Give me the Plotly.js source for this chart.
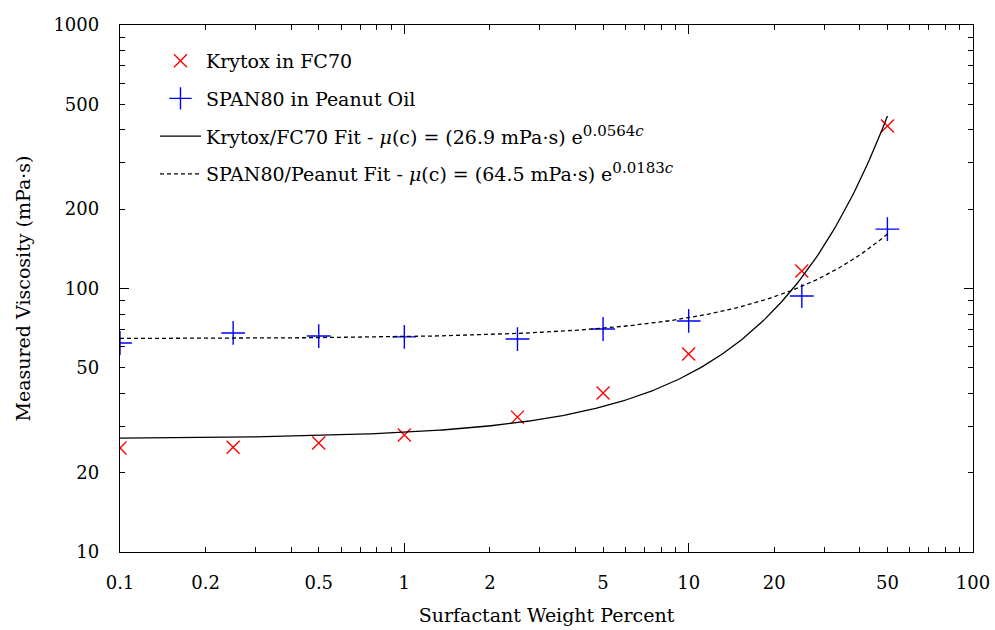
<!DOCTYPE html>
<html>
<head>
<meta charset="utf-8">
<script src="https://cdn.plot.ly/plotly-3.0.1.min.js"></script>
<style>
  html, body { margin: 0; padding: 0; background: #fff; }
  #chart { width: 995px; height: 630px; }
</style>
</head>
<body>
<div id="chart"></div>
<script>
// Surfactant concentration (weight percent)
const concentration = [0.1, 0.25, 0.5, 1, 2.5, 5, 10, 25, 50];

// Measured viscosity (mPa·s)
const krytoxViscosity = [24.8, 25.0, 25.9, 27.8, 32.5, 40.1, 56.4, 116.5, 414];
const span80Viscosity = [62.1, 67.8, 66.0, 65.5, 64.3, 70.2, 75.3, 93.6, 168];

// Exponential fits: mu(c) = mu0 * exp(k * c)
const krytoxMu0 = 26.9, krytoxK = 0.0564;
const span80Mu0 = 64.5, span80K = 0.0183;

// Labelled tick positions
const xLabelVals = [0.1, 0.2, 0.5, 1, 2, 5, 10, 20, 50, 100];
const yLabelVals = [10, 20, 50, 100, 200, 500, 1000];

// Evaluate a fit curve on a log-spaced grid of concentrations
function fitCurve(mu0, k, cMin, cMax, n) {
  const xs = [], ys = [];
  const l0 = Math.log10(cMin), l1 = Math.log10(cMax);
  for (let i = 0; i <= n; i++) {
    const c = Math.pow(10, l0 + (l1 - l0) * i / n);
    xs.push(c);
    ys.push(mu0 * Math.exp(k * c));
  }
  return { xs, ys };
}

// Decade ticks (long) and the remaining 2..9 multiples (short)
function decades(first, last) {
  const out = [];
  for (let d = first; d <= last; d++) out.push(+Math.pow(10, d).toPrecision(3));
  return out;
}
function minorTicks(first, last, skip) {
  const out = [];
  for (let d = first; d < last; d++) {
    for (let m = 2; m <= 9; m++) {
      const v = +(m * Math.pow(10, d)).toPrecision(3);
      if (!skip.some(s => Math.abs(s - v) < 1e-9)) out.push(v);
    }
  }
  return out;
}

// Legend label for an exponential fit
function fitLabel(prefix, mu0, k) {
  return prefix + ' - <i>μ</i>(c) = (' + mu0 + ' mPa·s) e' +
    '<sup><span style="font-size:15px">' + k + '<i>c</i></span></sup>';
}

const kFit = fitCurve(krytoxMu0, krytoxK, 0.1, 50, 300);
const sFit = fitCurve(span80Mu0, span80K, 0.1, 50, 300);

const fontFamily = "'DejaVu Serif', serif";
const tickFont = { family: fontFamily, size: 18, color: '#000' };
const textFont = { family: fontFamily, size: 19, color: '#000' };

const traces = [
  {
    x: concentration, y: krytoxViscosity,
    type: 'scatter', mode: 'markers',
    name: 'Krytox in FC70',
    legendgroup: 'a',
    marker: { symbol: 'x-thin', size: 13, color: '#ff0000', line: { width: 1.4, color: '#ff0000' } }
  },
  {
    x: concentration, y: span80Viscosity,
    type: 'scatter', mode: 'markers',
    name: 'SPAN80 in Peanut Oil',
    legendgroup: 'b',
    marker: { symbol: 'cross-thin', size: 17, color: '#0000ff', line: { width: 1.4, color: '#0000ff' } }
  },
  {
    x: kFit.xs, y: kFit.ys,
    type: 'scatter', mode: 'lines',
    name: fitLabel('Krytox/FC70 Fit', krytoxMu0, krytoxK),
    legendgroup: 'c',
    line: { color: '#000', width: 1.3 }
  },
  {
    x: sFit.xs, y: sFit.ys,
    type: 'scatter', mode: 'lines',
    name: fitLabel('SPAN80/Peanut Fit', span80Mu0, span80K),
    legendgroup: 'd',
    line: { color: '#000', width: 1.3, dash: '4px,3px' }
  },
  // carriers for the overlay axes that hold the extra tick marks
  { x: [], y: [], xaxis: 'x2', yaxis: 'y2', type: 'scatter', mode: 'markers', showlegend: false, hoverinfo: 'skip' },
  { x: [], y: [], xaxis: 'x3', yaxis: 'y3', type: 'scatter', mode: 'markers', showlegend: false, hoverinfo: 'skip' }
];

const xRange = [-1, 2];
const yRange = [1, 3];

function tickAxis(range, vals, len, overlay, anchor, side) {
  return {
    type: 'log', range: range, overlaying: overlay, anchor: anchor, side: side,
    tickmode: 'array', tickvals: vals,
    ticks: 'inside', ticklen: len, tickwidth: 1, tickcolor: '#000',
    showticklabels: false, showline: true, linecolor: '#000', linewidth: 1.2, mirror: 'allticks',
    showgrid: false, zeroline: false
  };
}

const layout = {
  width: 995, height: 630,
  margin: { l: 120, r: 22, t: 25, b: 78 },
  paper_bgcolor: '#fff', plot_bgcolor: '#fff',
  font: textFont,
  showlegend: true,
  legend: {
    x: 0.041, y: 0.968, xanchor: 'left', yanchor: 'top',
    bgcolor: 'rgba(0,0,0,0)', borderwidth: 0,
    tracegroupgap: 10, itemwidth: 41,
    font: textFont
  },
  xaxis: {
    type: 'log', range: xRange,
    tickmode: 'array', tickvals: xLabelVals,
    ticks: 'inside', ticklen: 5, tickwidth: 1, tickcolor: '#000',
    showline: true, linecolor: '#000', linewidth: 1.2, mirror: 'allticks',
    showgrid: false, zeroline: false,
    ticklabelstandoff: 14,
    tickfont: tickFont,
    title: { text: 'Surfactant Weight Percent', font: textFont, standoff: 17 }
  },
  xaxis2: tickAxis(xRange, decades(-1, 2), 9, 'x', 'y', 'bottom'),
  xaxis3: tickAxis(xRange, minorTicks(-1, 2, xLabelVals), 5, 'x', 'y', 'bottom'),
  yaxis: {
    type: 'log', range: yRange,
    tickmode: 'array', tickvals: yLabelVals,
    ticks: 'inside', ticklen: 5, tickwidth: 1, tickcolor: '#000',
    showline: true, linecolor: '#000', linewidth: 1.2, mirror: 'allticks',
    showgrid: false, zeroline: false,
    ticklabelstandoff: 16,
    tickfont: tickFont,
    title: { text: 'Measured Viscosity (mPa·s)', font: textFont, standoff: 17 }
  },
  yaxis2: tickAxis(yRange, decades(1, 3), 9, 'y', 'x', 'left'),
  yaxis3: tickAxis(yRange, minorTicks(1, 3, yLabelVals), 5, 'y', 'x', 'left')
};

Plotly.newPlot('chart', traces, layout, { staticPlot: true, displayModeBar: false });
</script>
</body>
</html>
